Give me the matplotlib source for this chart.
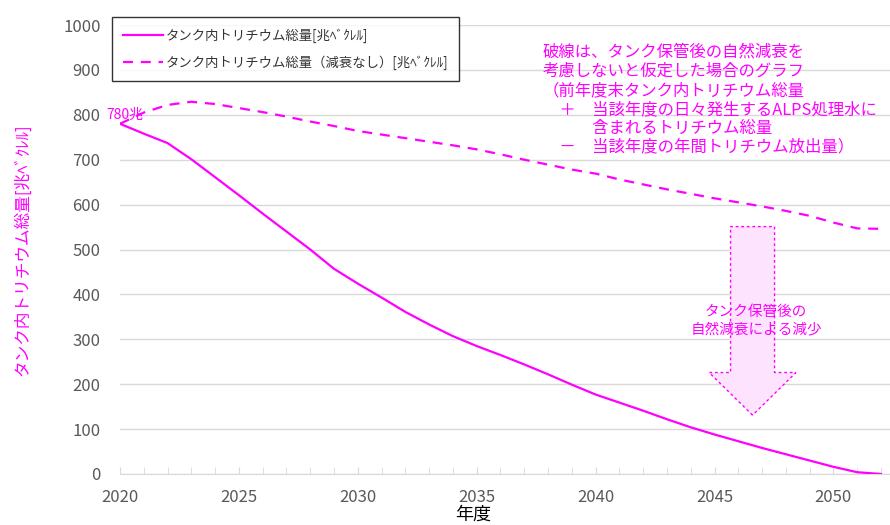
import numpy as np
import matplotlib
matplotlib.use('Agg')
import matplotlib.pyplot as plt
from matplotlib.patches import FancyArrow
from matplotlib.ticker import MultipleLocator

plt.rcParams['font.family'] = ['Noto Sans CJK JP', 'DejaVu Sans']

# data
years = np.arange(2020, 2053)
total = [780, 758, 737, 701, 661, 621, 580, 540, 500, 457, 424, 393, 361, 333, 307, 285, 265,
         244, 222, 199, 177, 159, 141, 122, 104, 88, 73, 58, 44, 30, 16, 4, 0]
no_decay = [780, 805, 822, 829, 824, 815, 806, 796, 785, 775, 764, 756, 748, 740, 732, 723, 712,
            700, 689, 678, 669, 656, 645, 634, 624, 614, 605, 596, 586, 575, 560, 547, 546]
lbl_total = 'タンク内トリチウム総量[兆ﾍﾞｸﾚﾙ]'
lbl_nodecay = 'タンク内トリチウム総量（減衰なし）[兆ﾍﾞｸﾚﾙ]'
note = ('破線は、タンク保管後の自然減衰を\n'
        '考慮しないと仮定した場合のグラフ\n'
        '（前年度末タンク内トリチウム総量\n'
        '　＋　当該年度の日々発生するALPS処理水に\n'
        '　　　含まれるトリチウム総量\n'
        '　－　当該年度の年間トリチウム放出量）')

MAG = '#FF00FF'
GRID = '#D9D9D9'
TXT = '#595959'

fig = plt.figure(figsize=(8.9, 5.25), dpi=100)
ax = fig.add_axes([120/890, 51/525, 1 - 120/890, 449/525])

ax.plot(years, total, color=MAG, lw=1.6, label=lbl_total, zorder=3)
ax.plot(years, no_decay, color=MAG, lw=1.6, dashes=(4.5, 3.5), label=lbl_nodecay, zorder=3)

ax.set_xlim(2020, 2052.38)
ax.set_ylim(0, 1000)
ax.yaxis.set_major_locator(MultipleLocator(100))
ax.xaxis.set_major_locator(MultipleLocator(5))
ax.xaxis.set_minor_locator(MultipleLocator(1))
ax.grid(axis='y', color=GRID, lw=1)
ax.set_axisbelow(True)
for s in ['top', 'right', 'left']:
    ax.spines[s].set_visible(False)
ax.spines['bottom'].set_color(GRID)
ax.tick_params(axis='y', length=0, pad=14, labelsize=12, labelcolor=TXT)
ax.tick_params(axis='x', which='both', direction='in', length=5, color=GRID,
               pad=11, labelsize=12, labelcolor=TXT)

ax.text(2020.2, 800, '780兆', color=MAG, fontsize=10, ha='center', va='center', zorder=4)

# block arrow
arr = FancyArrow(2046.6, 551, 0, -420, width=1.85, head_width=3.65, head_length=95,
                 length_includes_head=True, facecolor='#FDE3FD', edgecolor=MAG,
                 lw=1, linestyle=(0, (2, 2)), zorder=2)
ax.add_patch(arr)
ax.text(2046.75, 342, 'タンク保管後の\n自然減衰による減少', color=MAG, fontsize=10.5,
        ha='center', va='center', linespacing=1.35, zorder=5)

fig.text(543/890, 1 - 44/525, note, color=MAG, fontsize=11.8, ha='left', va='top',
         linespacing=1.15)

leg = ax.legend(loc='upper left', bbox_to_anchor=(112/890, 1 - 17/525),
                bbox_transform=fig.transFigure, fontsize=9.6, frameon=True, fancybox=False,
                handlelength=3.0, handletextpad=0.15, borderpad=0.85, labelspacing=0.95,
                borderaxespad=0)
leg.get_frame().set_edgecolor('black')
leg.get_frame().set_linewidth(1)
for t in leg.get_texts():
    t.set_color('#333333')

ax.set_ylabel(lbl_total, color=MAG, fontsize=12)
ax.yaxis.set_label_coords(-0.115, 0.5)
fig.text(473/890, 1 - 515/525, '年度', fontsize=13, ha='center', va='center', color='black')

fig.savefig('out.png', dpi=100)
